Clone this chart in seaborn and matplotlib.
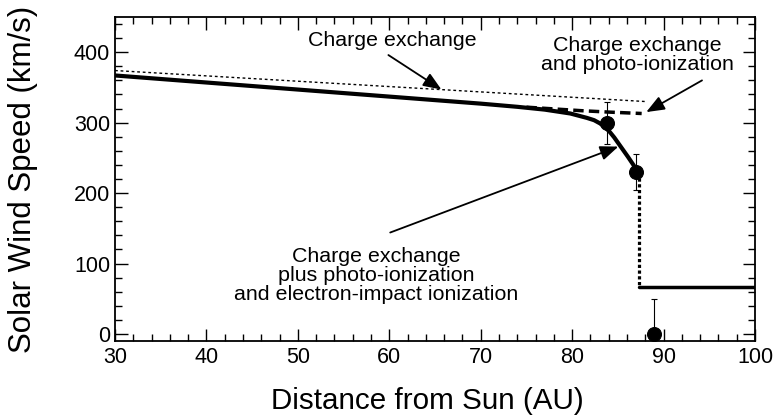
import matplotlib
matplotlib.use("Agg")
import matplotlib.pyplot as plt
from matplotlib.ticker import MultipleLocator
import seaborn as sns

# --- data ---
# charge exchange only (thin dotted)
cx_x = [30, 88]
cx_y = [374, 330]

# charge exchange + photo-ionization (dashed branch)
cxp_x = [75, 78, 81, 84, 87.6]
cxp_y = [322, 319.5, 317, 315, 313]

# full model (thick solid)
full_x = [30, 50, 70, 74, 77, 79.8, 81.6, 82.4, 83.05, 83.6, 84.1, 84.6,
          85.2, 86.1, 86.8, 87.1]
full_y = [367, 347, 327, 322.5, 318.5, 313, 306.8, 303.5, 298.9, 293.5, 287, 279,
          268, 251.5, 238, 229]

# termination shock drop (heavy dotted) and downstream speed
jump_x = [87.35, 87.35]
jump_y = [222, 67]
down_x = [87.35, 100]
down_y = [67, 67]

# Voyager points with error bars
obs_x = [83.8, 87.0, 89.0]
obs_y = [300, 230, 0]
obs_err = [30, 25, 50]

sns.set_style("ticks")
plt.rcParams["font.family"] = ["Liberation Sans", "DejaVu Sans"]
plt.rcParams["text.color"] = "black"
plt.rcParams["axes.labelcolor"] = "black"
plt.rcParams["xtick.color"] = "black"
plt.rcParams["ytick.color"] = "black"

fig = plt.figure(figsize=(7.74, 4.17), dpi=100)
ax = fig.add_axes([0.1486, 0.1823, 0.8269, 0.7769])

sns.lineplot(x=cx_x, y=cx_y, ax=ax, color="black", lw=1.0,
             linestyle=(0, (2, 2)), sort=False, estimator=None)
sns.lineplot(x=cxp_x, y=cxp_y, ax=ax, color="black", lw=2.5,
             linestyle=(0, (3, 1.5)), sort=False, estimator=None)
sns.lineplot(x=full_x, y=full_y, ax=ax, color="black", lw=3.0,
             sort=False, estimator=None)
sns.lineplot(x=jump_x, y=jump_y, ax=ax, color="black", lw=2.3,
             linestyle=(0, (1, 0.8)), sort=False, estimator=None)
sns.lineplot(x=down_x, y=down_y, ax=ax, color="black", lw=2.5,
             sort=False, estimator=None)

ax.errorbar(obs_x, obs_y, yerr=obs_err, fmt="none", ecolor="black",
            elinewidth=0.8, capsize=2.5, capthick=0.8, zorder=4)
sns.scatterplot(x=obs_x, y=obs_y, ax=ax, color="black", s=100,
                edgecolor="black", zorder=5, clip_on=False)

# annotations
fs = 15.4
arrow = dict(arrowstyle="-|>,head_length=0.55,head_width=0.22", color="black",
             lw=1.3, mutation_scale=20, shrinkA=0, shrinkB=0)
ax.text(60.3, 417, "Charge exchange", ha="center", va="center", fontsize=fs)
ax.annotate("", xy=(65.7, 347), xytext=(59.9, 396), arrowprops=arrow)

ax.text(87.1, 396, "Charge exchange\nand photo-ionization", ha="center",
        va="center", fontsize=fs, linespacing=1.0)
ax.annotate("", xy=(88.1, 315), xytext=(94.2, 360), arrowprops=arrow)

ax.text(58.6, 83, "Charge exchange\nplus photo-ionization\nand electron-impact ionization",
        ha="center", va="center", fontsize=fs, linespacing=1.0)
ax.annotate("", xy=(85.05, 266), xytext=(60.1, 144), arrowprops=arrow)

ax.set_xlim(30, 100)
ax.set_ylim(-10, 450)
ax.xaxis.set_major_locator(MultipleLocator(10))
ax.xaxis.set_minor_locator(MultipleLocator(2))
ax.yaxis.set_minor_locator(MultipleLocator(20))
ax.set_yticks([0, 100, 200, 300, 400])
ax.tick_params(which="both", direction="in", top=True, right=True,
               labelsize=15.5, width=1.0, color="black", labelcolor="black")
ax.tick_params(which="major", length=9)
ax.tick_params(which="minor", length=5)
ax.tick_params(axis="x", which="major", pad=4)
ax.tick_params(axis="y", which="major", pad=3.5)
for s in ax.spines.values():
    s.set_linewidth(1.3)
    s.set_color("black")

ax.set_xlabel("Distance from Sun (AU)", fontsize=21.3)
ax.set_ylabel("Solar Wind Speed (km/s)", fontsize=22.5)
ax.xaxis.set_label_coords(0.488, -0.185)
ax.yaxis.set_label_coords(-0.1445, 0.5)
ax.xaxis.label.set_va("center")
ax.yaxis.label.set_va("center")

fig.savefig("out.png", dpi=100)
